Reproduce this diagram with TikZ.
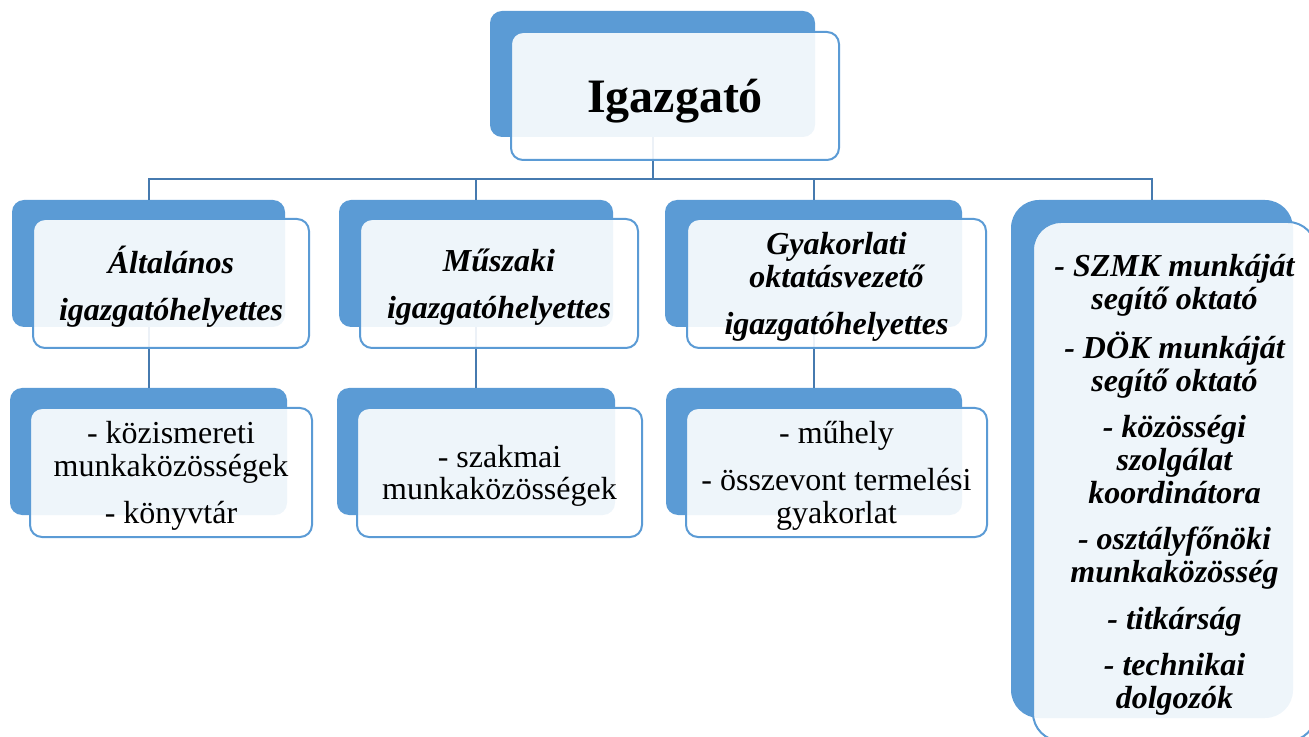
\documentclass[tikz,border=0pt]{standalone}
\usepackage{fontspec}
\setmainfont{Liberation Serif}
\definecolor{boxblue}{RGB}{91,155,213}
\definecolor{linkblue}{RGB}{70,122,175}

\begin{document}
\begin{tikzpicture}[x=0.75pt,y=-0.75pt,
  backbox/.style={fill=boxblue,rounded corners=9pt,inner sep=0pt},
  frontbox/.style={draw=boxblue,line width=1.5pt,fill=white,fill opacity=0.9,text opacity=1,
    rounded corners=9pt,inner sep=0pt,text depth=0pt,align=center},
  head/.style={font=\fontsize{24}{24.5}\selectfont\bfseries\itshape},
  unit/.style={font=\fontsize{24}{24.5}\selectfont},
  link/.style={draw=linkblue,line width=1.5pt}]
\useasboundingbox (0,0) rectangle (1309,737);

% --- back boxes ---
\node[backbox,minimum width=243.75pt,minimum height=94.5pt] (ig-b) at (652.5,74) {};
\node[backbox,minimum width=204.75pt,minimum height=95.25pt] (alt-b) at (148.5,263.5) {};
\node[backbox,minimum width=205.5pt,minimum height=95.25pt] (musz-b) at (476,263.5) {};
\node[backbox,minimum width=222.75pt,minimum height=95.25pt] (gyak-b) at (813.5,263.5) {};
\node[backbox,rounded corners=21pt,minimum width=211.5pt,minimum height=388.5pt] (staff-b) at (1152,459) {};
\node[backbox,minimum width=207.75pt,minimum height=95.25pt] (kozism-b) at (148.5,451.5) {};
\node[backbox,minimum width=208.5pt,minimum height=95.25pt] (szakm-b) at (476,451.5) {};
\node[backbox,minimum width=222pt,minimum height=95.25pt] (muhely-b) at (814,451.5) {};

% --- connectors ---
\coordinate (bus) at (652,179);
\draw[link] (ig-b.south) -- (ig-b.south |- bus);
\draw[link] (alt-b.north) -- (alt-b.north |- bus) -- (staff-b.north |- bus) -- (staff-b.north);
\draw[link] (musz-b.north) -- (musz-b.north |- bus);
\draw[link] (gyak-b.north) -- (gyak-b.north |- bus);
\draw[link] (alt-b.south) -- (alt-b.south |- kozism-b.north);
\draw[link] (musz-b.south) -- (musz-b.south |- szakm-b.north);
\draw[link] (gyak-b.south) -- (gyak-b.south |- muhely-b.north);

% --- front boxes ---
\node[frontbox,minimum width=246pt,minimum height=96pt,font=\fontsize{36}{40}\selectfont\bfseries] (ig) at (675,96) {Igazgató};
\node[frontbox,head,minimum width=207pt,minimum height=96.75pt] (alt) at (171,283.5) {Általános\\[10.5pt]igazgatóhelyettes};
\node[frontbox,head,minimum width=208.5pt,minimum height=96.75pt] (musz) at (499,283.5) {Műszaki\\[10.5pt]igazgatóhelyettes};
\node[frontbox,head,minimum width=224.25pt,minimum height=96.75pt] (gyak) at (836.5,283.5) {Gyakorlati\\oktatásvezető\\[10.5pt]igazgatóhelyettes};
\node[frontbox,head,rounded corners=21pt,minimum width=212.25pt,minimum height=389.25pt] (staff) at (1174.5,481.5)
  {- SZMK munkáját\\segítő oktató\\[10.5pt]- DÖK munkáját\\segítő oktató\\[10.5pt]- közösségi\\szolgálat\\koordinátora\\[10.5pt]- osztályfőnöki\\munkaközösség\\[10.5pt]- titkárság\\[10.5pt]- technikai\\dolgozók};
\node[frontbox,unit,minimum width=211.5pt,minimum height=96.75pt] (kozism) at (171,472.5) {- közismereti\\munkaközösségek\\[10.5pt]- könyvtár};
\node[frontbox,unit,minimum width=213.75pt,minimum height=96.75pt] (szakm) at (499.5,472.5) {- szakmai\\munkaközösségek};
\node[frontbox,unit,minimum width=225.75pt,minimum height=96.75pt] (muhely) at (836.5,472.5) {- műhely\\[10.5pt]- összevont termelési\\gyakorlat};

\end{tikzpicture}
\end{document}
